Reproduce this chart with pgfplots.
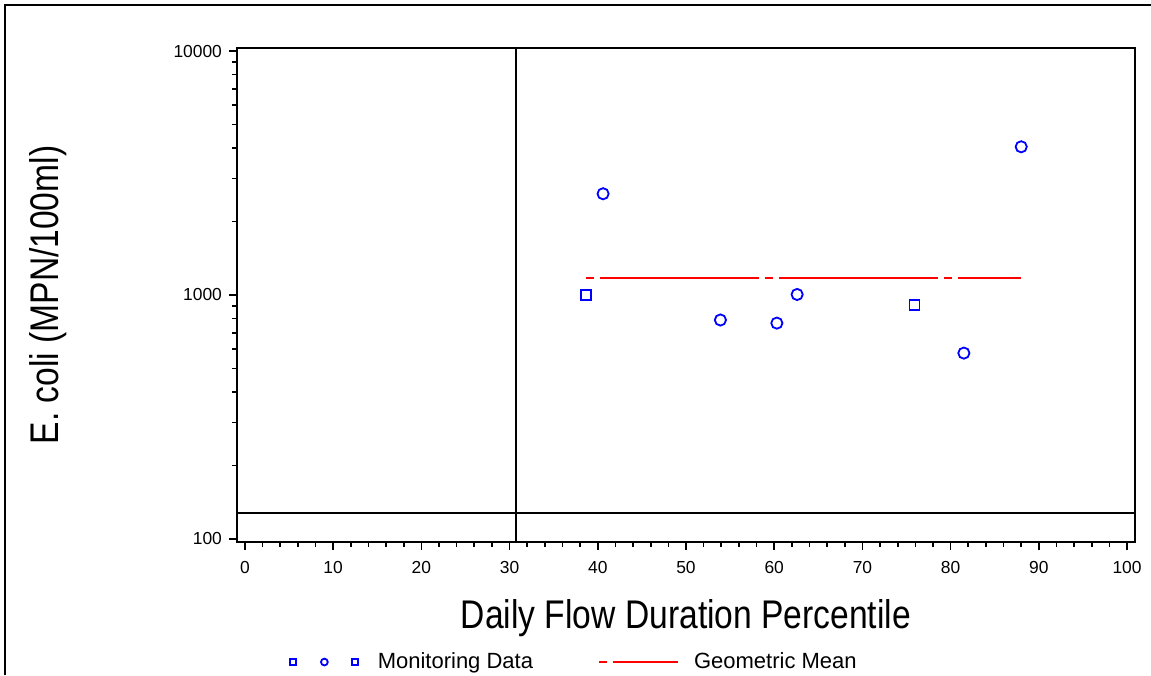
\documentclass[border=0pt]{standalone}
\usepackage{fontspec}
\setmainfont{Liberation Sans}
\newfontfamily\labelfont{Liberation Sans}[FakeStretch=0.84]
\usepackage{pgfplots}
\pgfplotsset{compat=1.18}

\begin{document}
\begin{tikzpicture}
\useasboundingbox (-118.5pt,-66.5pt) rectangle (457pt,271pt);
\draw[line width=1pt] (-116pt,-66.5pt) -- (-116pt,268.5pt) -- (457pt,268.5pt);
\begin{axis}[
  at={(0,0)}, anchor=south west,
  scale only axis, width=449pt, height=247pt,
  xmin=-0.9, xmax=100.9,
  ymode=log, ymin=97.2, ymax=10290,
  xtick={0,10,...,100}, minor x tick num=4,
  ytick={100,1000,10000}, yticklabels={100,1000,10000},
  xtick pos=left, ytick pos=left,
  tick align=outside,
  major tick length=4pt, minor tick length=2.5pt,
  axis line style={black, line width=0.9pt},
  tick style={black, line width=0.8pt},
  /pgf/number format/assume math mode=true,
  tick label style={font=\fontsize{8.7}{10}\selectfont},
  xticklabel style={yshift=-2.3pt},
  xlabel={Daily Flow Duration Percentile},
  ylabel={E. coli (MPN/100ml)},
  label style={font=\labelfont\fontsize{20}{24}\selectfont},
  xlabel style={at={(axis description cs:0.5,-0.1761)}, anchor=base},
  ylabel style={at={(axis description cs:-0.1993,0.5)}, anchor=base},
  legend columns=2,
  legend style={draw=none, fill=none, inner sep=0pt,
    at={(axis description cs:0.059,-0.243)}, anchor=west,
    font=\fontsize{11}{13}\selectfont,
    nodes={inner sep=0pt},
    /tikz/column sep=0pt,
    /tikz/every even column/.append style={column sep=32.5pt}},
]
% reference lines
\addplot[black, line width=0.8pt, forget plot] coordinates {(30.7,97.2) (30.7,10290)};
\addplot[black, line width=0.8pt, forget plot] coordinates {(-0.9,128) (100.9,128)};

% monitoring data
\addplot[only marks, mark=square, mark size=2.5pt, blue,
  mark options={line width=0.9pt},
  legend image code/.code={
    \draw[only marks, mark=square, mark size=1.5pt, blue, line width=0.8pt]
      plot coordinates {(0pt,0pt) (31pt,0pt)};
    \draw[only marks, mark=o, mark size=1.7pt, blue, line width=0.8pt]
      plot coordinates {(15.5pt,0pt)};
    \path (42pt,0pt);
  }] coordinates {
  (38.7,1000) (75.9,910)
};
\addlegendentry{Monitoring Data}

\addplot[only marks, mark=o, mark size=2.8pt, blue,
  mark options={line width=0.9pt}, forget plot] coordinates {
  (40.6,2600) (53.9,790) (60.3,767) (62.6,1005) (81.5,578) (88.0,4050)
};

% geometric mean
\addplot[red, line width=1pt, dash pattern=on 4pt off 3pt on 79.5pt off 3pt,
  legend image code/.code={
    \draw[red, line width=1pt] (0pt,0pt) -- (39.5pt,0pt);
    \path (47pt,0pt);
  }] coordinates {
  (38.7,1170) (88.0,1170)
};
\addlegendentry{Geometric Mean}
\end{axis}
\end{tikzpicture}
\end{document}
